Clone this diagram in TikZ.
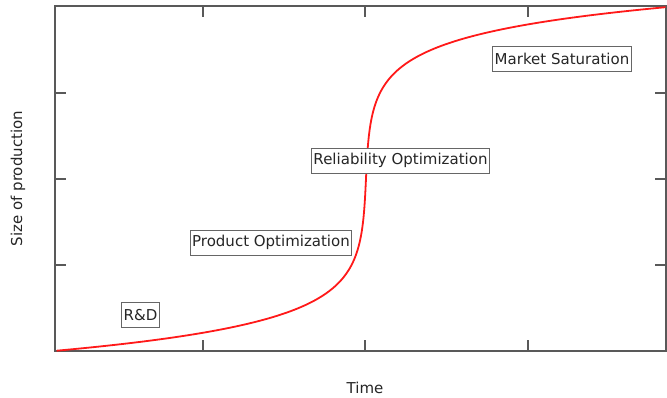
\documentclass[tikz,border=0pt]{standalone}
\usepackage{fontspec}
\setmainfont{DejaVu Sans}
\begin{document}
\begin{tikzpicture}[x=1pt,y=-1pt,
  axisline/.style={draw=black!65,line width=1.3pt},
  tickline/.style={draw=black!65,line width=1.2pt},
  phase/.style={draw=black!60,line width=0.9pt,fill=white,inner xsep=2pt,inner ysep=0pt,minimum height=25pt,font=\fontsize{15}{17}\selectfont,text=black!85},
  axislabel/.style={font=\fontsize{15}{17}\selectfont,text=black!85},
  curve/.style={draw=red!90!white,line width=1.8pt}]
\useasboundingbox (0,0) rectangle (667,398);
% frame
\draw[axisline] (55,6) rectangle (666,351);
% ticks
\foreach \tx in {203,365,528}{
  \draw[tickline] (\tx,6) -- (\tx,17);
  \draw[tickline] (\tx,351) -- (\tx,340);
}
\foreach \ty in {6,93,179,265,351}{
  \draw[tickline] (55,\ty) -- (66,\ty);
  \draw[tickline] (666,\ty) -- (655,\ty);
}
% curve
\draw[curve] plot[domain=-6.15:6.12,samples=400,variable=\t,smooth]
  ({366+1.32*sinh(\t)},{178.5-28*\t});
% labels
\node[phase] (rd) at (140.5,315) {R\&D};
\node[phase] (po) at (271,242.5) {Product Optimization};
\node[phase] (ro) at (400.5,160.5) {Reliability Optimization};
\node[phase] (ms) at (562,59) {Market Saturation};
\node[axislabel] (xl) at (365,388) {Time};
\node[axislabel,rotate=90] (yl) at (18,178.5) {Size of production};
\end{tikzpicture}
\end{document}
